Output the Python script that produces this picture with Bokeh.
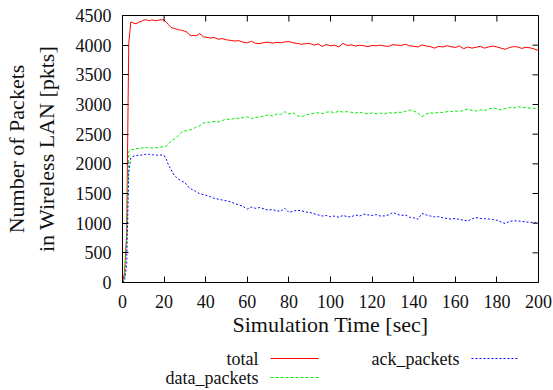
import math
from bokeh.plotting import figure
from bokeh.models import Range1d, FixedTicker, Label
from bokeh.layouts import column
from bokeh.embed import file_html
from bokeh.resources import INLINE

# ---- data ----
time_s = list(range(0, 41)) + list(range(42, 201, 2))

total = [0, 170, 820, 4030, 4390, 4380, 4360, 4370, 4390, 4400,
         4420, 4430, 4420, 4410, 4425, 4420, 4410, 4420, 4425, 4430,
         4420, 4390, 4350, 4310, 4290, 4280, 4270, 4260, 4255, 4245,
         4235, 4220, 4180, 4160, 4165, 4160, 4170, 4195, 4170, 4140,
         4135,
         4120, 4130, 4100, 4110, 4090, 4080, 4070, 4075, 4050, 4040,
         4066, 4030, 4025, 4045, 4050, 4035, 4045, 4040, 4055, 4060,
         4040, 4030, 4015, 4025, 4030, 4000, 4020, 3980, 4010, 3990,
         4000, 3970, 4030, 3995, 4005, 3985, 4000, 3990, 3975, 3995,
         3990, 4000, 3985, 3980, 4010, 4000, 3995, 4015, 3990, 3980,
         3970, 4005, 3985, 3975, 3950, 3980, 3970, 3990, 3975, 3960,
         3985, 3940, 3970, 3950, 3965, 3980, 3950, 3970, 3985, 3970,
         3950, 3930, 3960, 3975, 3970, 3945, 3965, 3955, 3935, 3910]

data_packets = [0, 80, 700, 2200, 2250, 2240, 2245, 2260, 2255, 2270,
                2265, 2280, 2270, 2276, 2265, 2270, 2275, 2270, 2280, 2285,
                2290, 2300, 2330, 2370, 2400, 2420, 2445, 2480, 2520, 2545,
                2558, 2560, 2570, 2575, 2590, 2610, 2625, 2642, 2665, 2690,
                2698,
                2700, 2715, 2705, 2730, 2755, 2745, 2772, 2765, 2780, 2794,
                2760, 2783, 2790, 2810, 2823, 2805, 2840, 2830, 2879, 2840,
                2860, 2811, 2794, 2820, 2840, 2850, 2860, 2845, 2870, 2879,
                2860, 2890, 2870, 2880, 2868, 2855, 2870, 2850, 2840, 2860,
                2845, 2855, 2840, 2865, 2850, 2870, 2868, 2885, 2907, 2890,
                2860, 2794, 2840, 2860, 2851, 2870, 2865, 2880, 2879, 2890,
                2885, 2900, 2924, 2900, 2890, 2910, 2896, 2920, 2941, 2930,
                2907, 2930, 2950, 2940, 2963, 2950, 2945, 2940, 2935, 2924]

ack_packets = [0, 30, 300, 1850, 2100, 2120, 2136, 2140, 2150, 2145,
               2155, 2160, 2164, 2160, 2155, 2150, 2150, 2145, 2150, 2147,
               2140, 2080, 1990, 1920, 1860, 1800, 1770, 1740, 1720, 1700,
               1685, 1640, 1600, 1573, 1560, 1540, 1520, 1500, 1490, 1480,
               1472,
               1450, 1420, 1405, 1390, 1376, 1360, 1330, 1310, 1280, 1236,
               1270, 1250, 1264, 1240, 1219, 1230, 1208, 1200, 1253, 1180,
               1200, 1219, 1210, 1190, 1180, 1160, 1140, 1120, 1130, 1106,
               1120, 1100, 1130, 1110, 1106, 1140, 1120, 1151, 1140, 1130,
               1145, 1120, 1123, 1140, 1180, 1150, 1130, 1140, 1100, 1090,
               1067, 1163, 1140, 1120, 1106, 1110, 1090, 1080, 1067, 1080,
               1060, 1050, 1038, 1070, 1095, 1080, 1075, 1070, 1060, 1050,
               1020, 993, 1030, 1040, 1038, 1030, 1020, 1015, 1010, 993]

series_names = ["total", "data_packets", "ack_packets"]
x_ticks = [0, 20, 40, 60, 80, 100, 120, 140, 160, 180, 200]
y_ticks = [0, 500, 1000, 1500, 2000, 2500, 3000, 3500, 4000, 4500]

FONT = "Liberation Serif"
X_MIN, X_MAX = 0, 200
Y_MIN, Y_MAX = 0, 4500
BORDER_L, BORDER_R = 122, 15

p = figure(width=553, height=345, output_backend="svg", toolbar_location=None,
           x_range=Range1d(X_MIN, X_MAX), y_range=Range1d(Y_MIN, Y_MAX),
           min_border_left=BORDER_L, min_border_right=BORDER_R, min_border_top=15,
           min_border_bottom=63)
p.background_fill_color = "white"
p.border_fill_color = "white"
p.outline_line_color = "black"
p.outline_line_width = 1
p.grid.visible = False

p.line(time_s, total, line_color="#ff0000", line_width=1)
p.line(time_s, data_packets, line_color="#00ee00", line_width=1, line_dash="3 2")
p.line(time_s, ack_packets, line_color="#0000ff", line_width=1, line_dash="2 2")

for ax, ticks in ((p.xaxis[0], x_ticks), (p.yaxis[0], y_ticks)):
    ax.ticker = FixedTicker(ticks=ticks)
    ax.major_tick_in = 6
    ax.major_tick_out = 0
    ax.minor_tick_line_color = None
    ax.axis_line_color = "black"
    ax.major_tick_line_color = "black"
    ax.major_label_text_font = FONT
    ax.major_label_text_font_size = "18px"
    ax.major_label_text_color = "#111111"
    ax.axis_label_text_font = FONT
    ax.axis_label_text_font_style = "normal"
    ax.axis_label_text_font_size = "22px"
    ax.axis_label_text_color = "#111111"

xa = p.xaxis[0]
xa.axis_label = "Simulation Time [sec]"
xa.major_label_standoff = 12
xa.axis_label_standoff = 1

ya = p.yaxis[0]
ya.axis_label = "Number of Packets\nin Wireless LAN [pkts]"
ya.major_label_standoff = 11
ya.axis_label_standoff = 14

# mirrored inward ticks on top and right edges (gnuplot style)
p.ray(x=x_ticks, y=[Y_MAX] * len(x_ticks), length=6, length_units="screen",
      angle=-math.pi / 2, line_color="black", line_width=1)
p.ray(x=[X_MAX] * len(y_ticks), y=y_ticks, length=6, length_units="screen",
      angle=math.pi, line_color="black", line_width=1)

# ---- legend panel (gnuplot style: label then sample) ----
# frame aligned with the main plot's frame; x range set so data x == page pixel x
leg = figure(width=553, height=45, output_backend="svg", toolbar_location=None,
             x_range=Range1d(BORDER_L, 553 - BORDER_R), y_range=Range1d(45, 0),
             min_border_left=BORDER_L, min_border_right=BORDER_R, min_border_top=0,
             min_border_bottom=0)
leg.axis.visible = False
leg.grid.visible = False
leg.outline_line_color = None
leg.background_fill_color = "white"
leg.border_fill_color = "white"

for name, lx, ly in ((series_names[0], 258, 13), (series_names[1], 258, 32),
                     (series_names[2], 459, 13)):
    leg.add_layout(Label(x=lx, y=ly, text=name, text_align="right",
                         text_baseline="middle", text_font=FONT,
                         text_font_size="18px", text_color="#111111"))
leg.line([270, 318], [13, 13], line_color="#ff0000", line_width=1)
leg.line([270, 318], [32, 32], line_color="#00ee00", line_width=1, line_dash="3 2")
leg.line([471, 519], [13, 13], line_color="#0000ff", line_width=1, line_dash="2 2")

layout = column(p, leg, spacing=0)
open("out.html", "w").write(file_html(layout, INLINE))
